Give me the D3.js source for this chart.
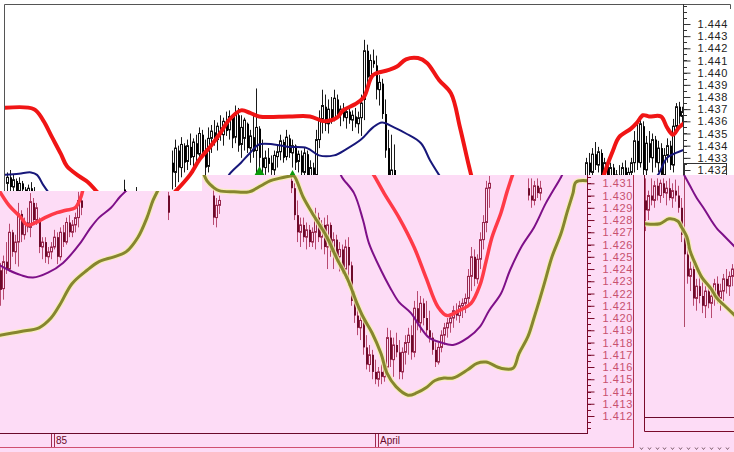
<!DOCTYPE html>
<html>
<head>
<meta charset="utf-8">
<script src="https://cdn.jsdelivr.net/npm/d3@7"></script>
<style>
  body { margin: 0; background: #fff; }
  svg { display: block; font-family: "Liberation Sans", Arial, sans-serif; }
</style>
</head>
<body>
<div id="chart"></div>
<script>
'use strict';

// All prices are kept in pips above 1.4000 (372 -> 1.4372).
var BASE = 1.4;

// ---- upper (white) window ----
var topPriceLabels = [1.444, 1.443, 1.442, 1.441, 1.440, 1.439, 1.438, 1.437, 1.436, 1.435, 1.434, 1.433, 1.432];
var lastPrice = 1.432;

// [bar, open, high, low, close]
var topCandles = [
  [1,309,318,300,314],[2,314,320,302,306],[3,306,316,300,312],[4,311,313,298,302],[5,303,314,297,309],
  [6,309,311,300,304],[7,304,306,298,300],[8,300,308,296,305],[9,305,310,298,301],[10,301,306,296,298],
  [40,304,312,296,300],[44,300,306,294,298],
  [56,326,336,304,318],[57,318,345,306,338],[58,336,340,310,322],[59,322,347,314,341],[60,340,342,318,326],
  [61,327,345,320,340],[62,339,350,324,330],[63,331,346,318,343],[64,342,349,326,333],[65,333,355,328,350],
  [66,349,353,330,335],[67,336,345,312,322],[68,323,355,318,346],[69,346,357,334,352],[70,351,361,340,344],
  [71,345,359,336,356],[72,355,365,344,349],[73,349,363,340,360],[74,359,368,348,352],[75,353,369,345,364],
  [76,363,365,338,346],[77,347,373,342,366],[78,365,371,335,340],[79,341,365,330,355],[80,346,363,336,361],
  [81,358,359,334,338],[82,338,353,326,348],[83,347,365,330,335],[84,336,387,316,355],[85,354,356,320,330],
  [86,330,345,316,322],[87,322,336,316,330],[88,330,338,318,325],[89,326,332,316,320],[90,320,336,314,332],
  [91,331,341,322,335],[92,335,349,328,344],[93,343,345,326,330],[94,331,353,328,347],[95,346,349,330,334],
  [96,334,345,322,340],[97,340,341,320,326],[98,327,336,318,333],[99,332,336,312,318],[100,318,338,314,334],
  [101,333,336,300,310],[102,310,328,300,322],[103,322,326,312,316],[104,316,353,312,345],[105,345,369,338,362],
  [106,362,386,350,373],[107,372,382,352,358],[108,358,378,350,370],[109,370,380,358,362],[110,363,386,360,379],
  [111,378,382,362,366],[112,366,373,356,370],[113,370,375,360,363],[114,363,371,354,368],[115,368,373,358,361],
  [116,361,369,352,365],[117,364,371,355,358],[118,358,368,350,363],[119,363,382,348,375],[120,378,427,361,418],
  [121,418,423,390,396],[122,397,415,392,410],[123,410,419,404,407],[124,406,414,378,386],[125,386,398,373,392],
  [126,391,395,362,366],[127,366,378,330,336],[128,338,353,295,303],[129,305,349,300,320],[130,320,341,298,304],
  [194,312,330,300,326],[195,326,334,315,318],[196,318,338,310,333],[197,333,343,320,324],[198,324,339,318,335],
  [199,334,337,312,316],[200,316,330,308,326],[201,326,328,310,314],[202,314,326,308,322],[203,322,325,306,310],
  [204,310,320,304,316],[205,316,324,308,312],[206,312,326,306,322],[207,322,328,310,314],[208,314,322,306,318],
  [209,318,330,310,326],[210,326,352,318,344],[211,344,358,320,326],[212,326,363,322,358],[213,356,360,316,320],
  [214,320,348,312,342],[215,342,352,326,330],[216,330,350,318,345],[217,345,348,322,326],[218,326,344,318,338],
  [219,338,342,312,316],[220,316,338,310,332],[221,332,346,326,340],[222,340,344,320,324],[223,324,362,318,356],
  [224,356,375,350,372],[225,372,376,358,364],[226,364,372,356,368]
];

// indicator lines, [bar, value]
var topRedA = [[0,371],[10,370],[13,361],[16,347],[19,333],[21,323],[25,315],[28,310],[31,302],[34,294]];
var topRedB = [[57,302],[62,316],[65,328],[69,340],[72,350],[75,361],[79,369],[82,367],[85,364],[95,364],
  [102,364],[107,360],[111,363],[113,369],[117,374],[120,380],[123,398],[128,402],[131,405],[134,411],
  [138,412],[141,408],[145,394],[149,383],[152,355],[155,323],[157,304],[159,290]];
var topRedC = [[199,304],[200,316],[203,336],[205,347],[209,354],[211,359],[213,365],[215,364],[219,364],
  [221,355],[223,349],[225,355],[227,359]];
var topBlueA = [[0,316],[5,317],[9,318],[11,316],[13,308],[15,301]];
var topBlueB = [[74,310],[75,316],[79,326],[82,334],[85,341],[90,341],[95,339],[101,338],[105,332],[110,332],
  [114,337],[119,345],[123,355],[126,359],[130,355],[134,350],[139,342],[142,328],[145,316],[148,305]];
var topBlueC = [[215,308],[218,316],[221,330],[224,334],[227,337]];
var topArrows = [[85,323],[96,320]];

// ---- lower (pink) window ----
var pinkPriceLabels = [1.431, 1.430, 1.429, 1.428, 1.427, 1.426, 1.425, 1.424, 1.423, 1.422,
  1.421, 1.420, 1.419, 1.418, 1.417, 1.416, 1.415, 1.414, 1.413, 1.412];
var dateLabels = [[17, '85'], [125, 'April']];

var pinkCandles = [
  [0,239,245,210,223],[1,224,251,215,246],[2,246,262,236,240],[3,240,277,238,270],[4,270,272,250,254],
  [5,254,268,244,262],[6,262,294,242,285],[7,285,288,262,268],[8,268,282,264,278],[9,278,290,270,274],
  [10,274,302,266,295],[11,294,298,276,280],[12,280,294,276,290],[13,279,282,253,258],[14,258,266,248,262],
  [15,262,266,245,250],[16,250,258,244,254],[17,254,262,248,258],[18,258,272,256,266],[19,266,270,244,250],
  [20,250,274,247,270],[21,270,276,258,262],[22,262,282,260,278],[23,278,284,266,270],[24,270,280,266,276],
  [25,276,286,270,282],[26,282,303,274,296],[27,296,300,284,290],
  [56,300,303,280,286],[71,300,306,276,282],[72,282,298,274,292],[73,292,300,285,296],
  [97,312,316,302,306],[98,306,310,280,284],[99,284,296,262,270],[100,270,282,258,276],[101,276,282,262,266],
  [102,266,278,256,272],[103,272,276,258,262],[104,262,274,258,270],[105,270,290,256,282],[106,282,286,262,266],
  [107,266,280,256,276],[108,276,282,252,258],[109,258,284,240,276],[110,276,278,250,254],[111,254,270,240,264],
  [112,264,268,246,250],[113,250,262,238,256],[114,256,260,236,240],[115,240,264,232,258],[116,258,266,226,243],
  [117,243,246,210,214],[118,214,222,196,202],[119,202,212,186,192],[120,192,206,182,198],[121,198,202,170,176],
  [122,176,186,158,162],[123,162,178,156,170],[124,170,174,150,156],[125,156,166,146,150],[126,150,160,144,156],
  [127,156,162,146,152],[128,152,164,148,160],[129,160,192,156,184],[130,184,190,160,166],[131,166,184,152,178],
  [132,178,188,168,172],[133,172,182,150,156],[134,156,176,150,172],[135,172,186,162,180],[136,180,192,170,186],
  [137,186,194,166,172],[138,172,214,168,208],[139,208,222,190,196],[140,196,218,188,212],[141,212,216,194,200],
  [142,200,214,186,190],[143,190,206,180,184],[144,184,188,170,174],[145,174,180,160,164],[146,164,180,162,176],
  [147,176,190,172,186],[148,186,196,178,192],[149,192,200,184,196],[150,196,204,188,200],[151,200,210,192,206],
  [152,206,212,198,202],[153,202,214,196,210],[154,210,216,200,212],[155,212,220,204,216],[156,216,240,210,234],
  [157,234,258,222,250],[158,250,256,226,232],[159,232,252,228,248],[160,248,270,240,264],[161,264,284,256,278],
  [162,278,312,270,306],[163,306,316,290,310],
  [176,306,314,296,300],[177,300,314,290,296],[178,296,312,292,308],[179,308,314,298,302],[180,302,312,296,306]
];

var pinkRedA = [[0,303],[3,292],[7,282],[9,276],[12,278],[15,282],[19,286],[22,288],[25,290],[27,299],[28,308],[30,318]];
var pinkRedB = [[124,319],[125,315],[128,302],[133,282],[138,258],[142,233],[146,209],[149,202],[153,206],
  [157,212],[160,227],[162,246],[164,266],[167,286],[169,303],[171,318]];
var pinkPurpleA = [[0,243],[3,239],[7,235],[11,233],[16,237],[21,245],[27,262],[30,273],[33,282],[37,290],[40,299],[43,306]];
var pinkPurpleB = [[113,321],[114,315],[118,302],[121,280],[123,261],[127,239],[130,225],[133,213],[137,204],
  [140,193],[143,184],[147,180],[151,178],[156,184],[160,193],[163,206],[167,220],[170,239],[174,259],
  [178,274],[182,294],[187,315],[188,320]];
var pinkOliveA = [[0,186],[7,189],[13,192],[17,200],[20,211],[24,228],[29,239],[33,246],[38,250],[42,254],
  [46,266],[49,282],[51,296],[53,306],[55,316]];
var pinkOliveB = [[68,317],[69,312],[71,307],[73,304],[78,303],[83,303],[87,308],[90,312],[93,314],[97,316],
  [98,316],[101,299],[104,286],[109,266],[112,250],[116,231],[119,212],[121,201],[124,188],[127,171],
  [129,155],[132,144],[136,137],[139,139],[142,143],[145,149],[148,151],[151,151],[156,158],[159,163],
  [162,164],[167,159],[171,159],[173,171],[176,185],[178,200],[180,216],[182,233],[184,250],[187,269],
  [189,286],[191,302],[192,311],[196,312]];

// ---- small window on the right ----
var rightCandles = [
  [0,296,314,271,288],[1,288,304,280,300],[2,300,314,292,296],[3,296,312,290,308],[4,308,314,296,300],
  [5,300,313,294,310],[6,310,314,298,302],[7,302,312,292,306],[8,306,314,296,298],[9,298,310,290,304],
  [10,304,313,295,300],[11,300,308,286,290],[12,290,298,262,268],[13,268,282,246,252],[14,252,258,228,234],
  [15,234,246,222,240],[16,240,244,210,216],[17,216,232,206,226],[18,226,236,212,218],[19,218,230,204,210],
  [20,210,226,200,222],[21,222,228,208,212],[22,212,224,200,218],[23,218,232,210,228],[24,228,234,212,216],
  [25,216,228,206,222],[26,222,236,214,232],[27,232,240,220,226],[28,226,238,218,234],[29,234,244,226,240]
];
var rightOlive = [[0,277],[5,277],[8,281],[11,279],[12,275],[14,266],[15,255],[17,243],[19,233],[22,224],[24,216],[27,209],[30,202]];
var rightPurple = [[13,317],[15,308],[17,299],[20,288],[22,280],[24,273],[26,268],[30,258]];
var rightSeparatorBar = 13;

// ---------------------------------------------------------------
var W = 734, H = 452;
var PINK = '#fddcf6';

var svg = d3.select('#chart').append('svg').attr('width', W).attr('height', H);
var defs = svg.append('defs');
svg.append('rect').attr('width', W).attr('height', H).attr('fill', '#fff');

var xTop = d3.scaleLinear().domain([0, 227]).range([4, 685]);
var yTop = d3.scaleLinear().domain([1.432, 1.444]).range([170, 24]);
var xPink = d3.scaleLinear().domain([0, 196]).range([0, 588]);
var yPink = d3.scaleLinear().domain([1.412, 1.431]).range([416, 183.3]);
var xRight = d3.scaleLinear().domain([0, 30]).range([645, 735]);

function pips(scale) {
  return function (v) { return scale(BASE + v / 1e4); };
}
var pTop = pips(yTop), pPink = pips(yPink);

function drawCandles(g, data, x, py, st) {
  var c = g.selectAll(null).data(data).enter().append('g');
  c.append('line')
    .attr('x1', function (d) { return Math.round(x(d[0])) + 0.5; })
    .attr('x2', function (d) { return Math.round(x(d[0])) + 0.5; })
    .attr('y1', function (d) { return py(d[2]); })
    .attr('y2', function (d) { return py(d[3]); })
    .attr('stroke', st.wick)
    .attr('stroke-width', 1);
  c.append('rect')
    .attr('x', function (d) { return Math.round(x(d[0])) - (d[4] > d[1] ? 0.5 : 0); })
    .attr('y', function (d) { return py(Math.max(d[1], d[4])); })
    .attr('width', function (d) { return d[4] > d[1] ? 2 : 2; })
    .attr('height', function (d) { return Math.max(1, Math.abs(py(d[1]) - py(d[4]))); })
    .attr('fill', function (d) { return d[4] > d[1] ? st.bullFill : st.bear; })
    .attr('stroke', function (d) { return d[4] > d[1] ? st.bullLine : 'none'; })
    .attr('stroke-width', 1);
}

function drawLine(g, pts, x, py, color, width) {
  var line = d3.line()
    .x(function (d) { return x(d[0]); })
    .y(function (d) { return py(d[1]); })
    .curve(d3.curveCatmullRom.alpha(0.5));
  return g.append('path').datum(pts)
    .attr('d', line)
    .attr('fill', 'none')
    .attr('stroke', color)
    .attr('stroke-width', width)
    .attr('stroke-linejoin', 'round')
    .attr('stroke-linecap', 'round');
}

// ---- upper window ----
defs.append('clipPath').attr('id', 'clipTop')
  .append('rect').attr('x', 5).attr('y', 5).attr('width', 678).attr('height', 190);

var gTop = svg.append('g').attr('clip-path', 'url(#clipTop)');
drawCandles(gTop, topCandles, xTop, pTop, { wick: '#1a1a1a', bear: '#000', bullFill: '#fff', bullLine: '#111' });
[topBlueA, topBlueB, topBlueC].forEach(function (s) { drawLine(gTop, s, xTop, pTop, '#17177a', 2); });
[topRedA, topRedB, topRedC].forEach(function (s) { drawLine(gTop, s, xTop, pTop, '#f01515', 4); });
gTop.selectAll(null).data(topArrows).enter().append('path')
  .attr('d', function (d) {
    var cx = xTop(d[0]) + 0.5, ty = pTop(d[1]);
    return 'M' + cx + ',' + ty + 'L' + (cx + 5) + ',' + (ty + 9) + 'L' + (cx - 5) + ',' + (ty + 9) + 'Z';
  })
  .attr('fill', '#0a9a0a');

// frame + price scale
svg.append('path').attr('d', 'M4.5,200V4.5H730.5V9').attr('fill', 'none').attr('stroke', '#555');
svg.append('line').attr('x1', 683.5).attr('x2', 683.5).attr('y1', 4).attr('y2', 200).attr('stroke', '#333');

var topMinor = d3.range(1.4315, 1.4456, 0.0005);
svg.append('g').selectAll(null).data(topMinor).enter().append('line')
  .attr('x1', 683).attr('x2', 687)
  .attr('y1', function (d) { return Math.round(yTop(d)) + 0.5; })
  .attr('y2', function (d) { return Math.round(yTop(d)) + 0.5; })
  .attr('stroke', '#333');

var topAxis = d3.axisRight(yTop)
  .tickValues(topPriceLabels)
  .tickFormat(d3.format('.3f'))
  .tickSizeInner(7)
  .tickSizeOuter(0)
  .tickPadding(7);
var gTopAxis = svg.append('g').attr('transform', 'translate(683.5,0)').call(topAxis);
gTopAxis.select('.domain').remove();
gTopAxis.selectAll('line').attr('stroke', '#333');
gTopAxis.selectAll('text').attr('fill', '#222').style('font-size', '11px').style('letter-spacing', '0.6px');

// last price box
svg.append('rect').attr('x', 684.5).attr('y', yTop(lastPrice) - 6.5).attr('width', 42).attr('height', 12)
  .attr('fill', 'none').attr('stroke', '#333');

// ---- pink window ----
svg.append('path')
  .attr('d', 'M0,191H202V175H734V452H0Z')
  .attr('fill', PINK);

defs.append('clipPath').attr('id', 'clipPink')
  .append('path').attr('d', 'M0,191H202V175H587V433H0Z');

var gPink = svg.append('g').attr('clip-path', 'url(#clipPink)');
drawCandles(gPink, pinkCandles, xPink, pPink, { wick: '#b84a70', bear: '#6e0a2a', bullFill: PINK, bullLine: '#98284e' });
[pinkPurpleA, pinkPurpleB].forEach(function (s) { drawLine(gPink, s, xPink, pPink, '#7e1088', 2); });
[pinkOliveA, pinkOliveB].forEach(function (s) {
  drawLine(gPink, s, xPink, pPink, '#f6f0b0', 5.5).attr('opacity', 0.8);
  drawLine(gPink, s, xPink, pPink, '#86862e', 3);
});
[pinkRedA, pinkRedB].forEach(function (s) { drawLine(gPink, s, xPink, pPink, '#ff3a48', 3.5); });

// pink price scale
svg.append('line').attr('x1', 587.5).attr('x2', 587.5).attr('y1', 175).attr('y2', 433).attr('stroke', '#7a0a2a');
var pinkMinor = d3.range(1.411, 1.4316, 0.0005);
svg.append('g').selectAll(null).data(pinkMinor).enter().append('line')
  .attr('x1', 587).attr('x2', 591)
  .attr('y1', function (d) { return Math.round(yPink(d)) + 0.5; })
  .attr('y2', function (d) { return Math.round(yPink(d)) + 0.5; })
  .attr('stroke', '#7a0a2a');
var pinkAxis = d3.axisRight(yPink)
  .tickValues(pinkPriceLabels)
  .tickFormat(d3.format('.3f'))
  .tickSizeInner(7)
  .tickSizeOuter(0)
  .tickPadding(8);
var gPinkAxis = svg.append('g').attr('transform', 'translate(587.5,0)').call(pinkAxis);
gPinkAxis.select('.domain').remove();
gPinkAxis.selectAll('line').attr('stroke', '#7a0a2a');
gPinkAxis.selectAll('text').attr('fill', '#c8506e').style('font-size', '11px').style('letter-spacing', '0.6px');

// pink window borders and date row
svg.append('line').attr('x1', 0).attr('x2', 588).attr('y1', 433.5).attr('y2', 433.5).attr('stroke', '#6a0a2a');
svg.append('line').attr('x1', 0).attr('x2', 634).attr('y1', 447.5).attr('y2', 447.5).attr('stroke', '#d05070');
svg.append('line').attr('x1', 633.5).attr('x2', 633.5).attr('y1', 175).attr('y2', 448).attr('stroke', '#b03050');

var gDates = svg.append('g').selectAll(null).data(dateLabels).enter().append('g')
  .attr('transform', function (d) { return 'translate(' + Math.round(xPink(d[0])) + ',0)'; });
gDates.append('line').attr('x1', 0.5).attr('x2', 0.5).attr('y1', 434).attr('y2', 447).attr('stroke', '#a02a50');
gDates.append('line').attr('x1', 3.5).attr('x2', 3.5).attr('y1', 434).attr('y2', 447).attr('stroke', '#a02a50');
gDates.append('text').attr('x', 5).attr('y', 444).text(function (d) { return d[1]; })
  .attr('fill', '#6a0a2a').style('font-size', '10px');

// ---- right window ----
defs.append('clipPath').attr('id', 'clipRight')
  .append('rect').attr('x', 645).attr('y', 175).attr('width', 89).attr('height', 242);
var gRight = svg.append('g').attr('clip-path', 'url(#clipRight)');
gRight.append('line')
  .attr('x1', Math.round(xRight(rightSeparatorBar)) + 0.5).attr('x2', Math.round(xRight(rightSeparatorBar)) + 0.5)
  .attr('y1', 175).attr('y2', 327).attr('stroke', '#b04a6a');
drawCandles(gRight, rightCandles, xRight, pPink, { wick: '#b84a70', bear: '#6e0a2a', bullFill: PINK, bullLine: '#98284e' });
drawLine(gRight, rightPurple, xRight, pPink, '#7e1088', 2);
drawLine(gRight, rightOlive, xRight, pPink, '#f6f0b0', 5.5).attr('opacity', 0.8);
drawLine(gRight, rightOlive, xRight, pPink, '#86862e', 3);

svg.append('path').attr('d', 'M644.5,175V431.5H734').attr('fill', 'none').attr('stroke', '#7a0a2a');
svg.append('line').attr('x1', 645).attr('x2', 734).attr('y1', 417.5).attr('y2', 417.5).attr('stroke', '#6a0a2a');

// size grip marks along the bottom
svg.append('g').selectAll(null).data(d3.range(641, 734, 7.8)).enter().append('path')
  .attr('d', function (d) { var x = Math.round(d) + 0.5; return 'M' + (x - 1.5) + ',447.5L' + x + ',449.5L' + (x + 1.5) + ',447.5'; })
  .attr('fill', 'none').attr('stroke', '#806070').attr('stroke-width', 1);
</script>
</body>
</html>
